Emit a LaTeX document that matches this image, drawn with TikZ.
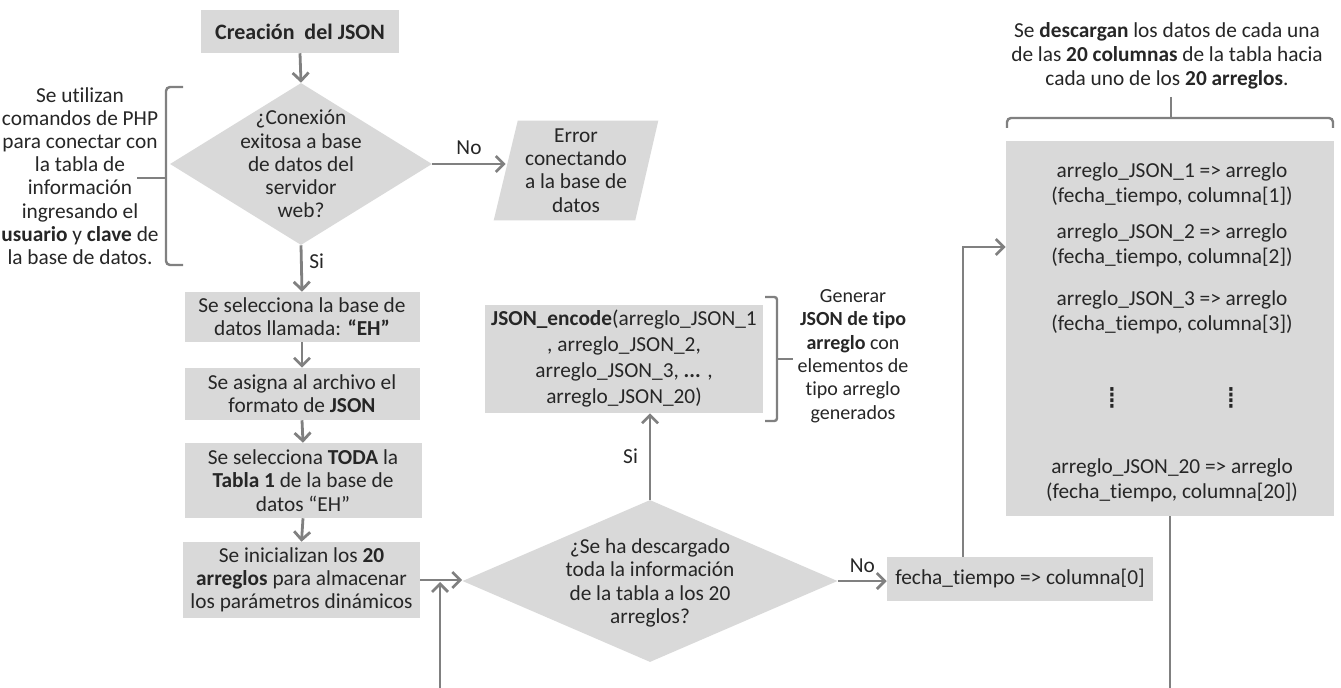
\documentclass[tikz,border=0pt]{standalone}
\usepackage{fontspec}
\setmainfont{Carlito}[Ligatures=NoCommon]
\newfontfamily\symfont{DejaVu Sans}
\usetikzlibrary{shapes.geometric,arrows.meta,calc,backgrounds}
\definecolor{boxgray}{HTML}{D9D9D9}
\definecolor{linegray}{HTML}{808080}
\definecolor{txt}{HTML}{262626}

\begin{document}
\begin{tikzpicture}[x=0.75pt,y=-0.75pt,
  every node/.style={font=\fontsize{16}{17.4}\selectfont, text=txt, inner sep=0pt, align=center},
  box/.style n args={2}{fill=boxgray, minimum width=#1*0.75pt, minimum height=#2*0.75pt},
  decision/.style n args={2}{diamond, fill=boxgray, minimum width=#1*0.75pt, minimum height=#2*0.75pt},
  line/.style={draw=linegray, line width=2.1pt},
  arr/.style={line, -{Straight Barb[length=6pt,width=12pt]}},
  brk/.style={draw=linegray, line width=1.8pt},
  lbl/.style={font=\fontsize{16}{17.4}\selectfont},
  vdots/.style={font=\symfont\fontsize{23}{23}\selectfont}
]
\useasboundingbox (0,0) rectangle (1341,688);

% main column
\node[box={198}{43}, font=\fontsize{16.5}{18}\selectfont\bfseries] (title) at (300,31.5) {Creación\ \ del JSON};
\node[decision={262}{162}] (d1) at (301,164) {};
\node at (301,164) {¿Conexión\\exitosa a base\\de datos del\\servidor\\web?};

\node[minimum width=140*0.75pt, minimum height=99*0.75pt] (err) at (576,170.5) {Error\\conectando\\a la base de\\datos};
\begin{scope}[on background layer]
  \fill[white] (0,0) rectangle (1341,688);
  \fill[boxgray] ($(err.north west)+(12,0)$) -- ($(err.north east)+(12,0)$)
     -- ($(err.south east)+(-11,0)$) -- ($(err.south west)+(-12,0)$) -- cycle;
\end{scope}

\node[box={235}{50}] (sel) at (302,317) {Se selecciona la base de\\datos llamada: \textbf{“EH”}};
\node[box={235}{52}] (asg) at (302,394) {Se asigna al archivo el\\formato de \textbf{JSON}};
\node[box={237}{75}] (tab) at (303,480.5) {Se selecciona \textbf{TODA} la\\\textbf{Tabla 1} de la base de\\datos “EH”};
\node[box={237}{76}] (ini) at (301.5,580) {Se inicializan los \textbf{20}\\\textbf{arreglos} para almacenar\\los parámetros dinámicos};

% left note and its bracket
\node at (80,176) {Se utilizan\\comandos de PHP\\para conectar con\\la tabla de\\información\\ingresando el\\\textbf{usuario} y \textbf{clave} de\\la base de datos.};
\draw[brk, rounded corners=3] (183,87) -- (166,87) -- (166,265) -- (183,265);
\draw[brk] (137,178) -- (166,178);

% second decision
\node[decision={375}{162}] (d2) at (650,581) {};
\node at (650,583) {¿Se ha descargado\\toda la información\\de la tabla a los 20\\arreglos?};

\node[box={278}{108}, font=\fontsize{16}{19.5}\selectfont] (enc) at (624,359) {\textbf{JSON\_encode}(arreglo\_JSON\_1\\, arreglo\_JSON\_2,\\arreglo\_JSON\_3, \textbf{...} ,\\arreglo\_JSON\_20)};
\draw[brk, rounded corners=2] (765,297) -- (777,297) -- (777,421) -- (765,421);
\draw[brk] (777,359) -- (793,359);
\node[font=\fontsize{15}{17.5}\selectfont] (gen) at (853,356) {Generar\\\textbf{JSON de tipo}\\\textbf{arreglo} con\\elementos de\\tipo arreglo\\generados};

\node[box={266}{44}] (fecha) at (1020,579) {fecha\_tiempo => columna[0]};

% array box
\node[box={328}{375}] (big) at (1170,328.5) {};
\begin{scope}[every node/.style={font=\fontsize{16}{18.75}\selectfont, text=txt, inner sep=0pt, align=center}]
\node (a1) at (1172,184.5) {arreglo\_JSON\_1 => arreglo\\(fecha\_tiempo, columna[1])};
\node (a2) at (1172,245.5) {arreglo\_JSON\_2 => arreglo\\(fecha\_tiempo, columna[2])};
\node (a3) at (1172,312.5) {arreglo\_JSON\_3 => arreglo\\(fecha\_tiempo, columna[3])};
\node (a20) at (1172,480.5) {arreglo\_JSON\_20 => arreglo\\(fecha\_tiempo, columna[20])};
\end{scope}
\node[vdots] (dl) at (1112,398) {⁞};
\node[vdots] (dr) at (1231,398) {⁞};

\node[font=\fontsize{16}{18}\selectfont] (top) at (1167,56) {Se \textbf{descargan} los datos de cada una\\de las \textbf{20 columnas} de la tabla hacia\\cada uno de los \textbf{20 arreglos}.};
\draw[brk, rounded corners=3] (1007,128) -- (1007,118) -- (1333,118) -- (1333,128);
\draw[brk] (1171,97) -- (1171,118);

% connectors
\coordinate (loopin) at (440,688);
\coordinate (loopout) at (1170,688);

\draw[arr] (title.south) -- (d1.north);
\draw[arr] (d1.east) -- (d1.east -| err.west) node[lbl, midway, above=6pt] {No};
\draw[arr] (d1.south) -- (sel.north) node[lbl, pos=0.35, right=5pt] {Si};
\draw[arr] (sel.south) -- (asg.north);
\draw[arr] (asg.south) -- (tab.north);
\draw[arr] (tab.south) -- (ini.north);
\draw[arr] (ini.east) -- (ini.east -| d2.west);
\draw[arr, shorten >=1.5pt] (loopin) -- (loopin |- ini.east);
\draw[arr] (d2.north) -- (d2.north |- enc.south) node[lbl, midway, left=8pt] {Si};
\draw[arr] (d2.east) -- (d2.east -| fecha.west) node[lbl, midway, above=5pt] {No};
\draw[arr] ($(fecha.north)+(-57,0)$) |- ($(big.west)+(0,-81.5)$);
\draw[line] (big.south) -- (big.south |- loopout);
\end{tikzpicture}
\end{document}
